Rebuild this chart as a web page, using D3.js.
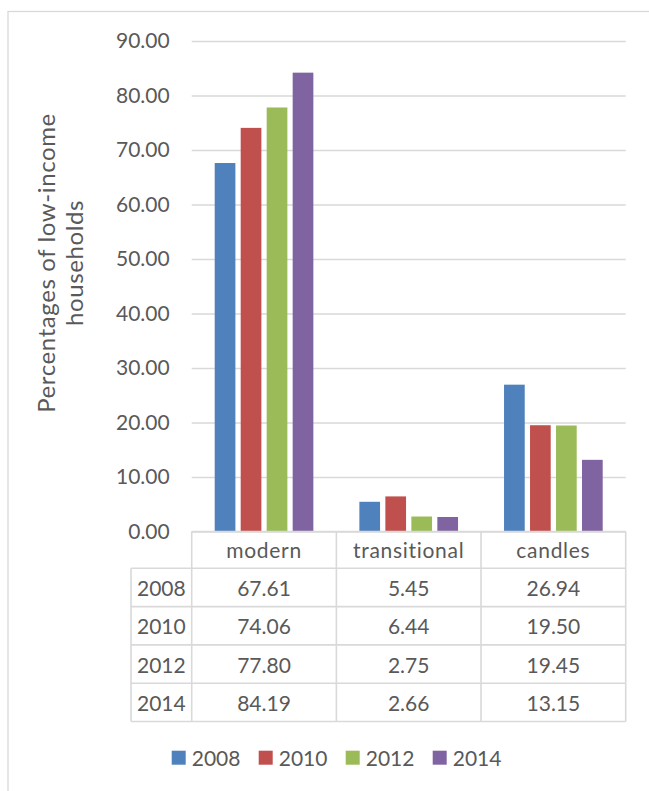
<!DOCTYPE html>
<html>
<head>
<meta charset="utf-8">
<script src="https://cdn.jsdelivr.net/npm/d3@7"></script>
<style>
  html, body { margin: 0; padding: 0; background: #fff; }
  svg text { font-family: Lato, "Open Sans", sans-serif; fill: #595959; }
</style>
</head>
<body>
<svg id="chart" width="649" height="791"></svg>
<script>
const categories = ["modern", "transitional", "candles"];
const years = ["2008", "2010", "2012", "2014"];
const values2008 = [67.61, 5.45, 26.94];
const values2010 = [74.06, 6.44, 19.50];
const values2012 = [77.80, 2.75, 19.45];
const values2014 = [84.19, 2.66, 13.15];
const yTicks = [0, 10, 20, 30, 40, 50, 60, 70, 80, 90];
const colors = ["#4f81bd", "#c0504d", "#9bbb59", "#8064a2"];
const yTitle = ["Percentages of low-income", "households"];

const series = [values2008, values2010, values2012, values2014];

const svg = d3.select("#chart");
const FS = 21;

// outer chart border
svg.append("rect").attr("x", 8).attr("y", 11.5).attr("width", 700).attr("height", 800)
  .attr("fill", "none").attr("stroke", "#d9d9d9").attr("stroke-width", 1.3);

const plotL = 191.7, plotR = 625.7, plotT = 41, plotB = 531.5;

const y = d3.scaleLinear().domain([0, 90]).range([plotB, plotT]);
const x0 = d3.scaleBand().domain(categories).range([plotL, plotR]).padding(0);
const bw = x0.bandwidth();
const x1 = d3.scaleBand().domain(years).range([23, bw - 23]).paddingInner(0.204).paddingOuter(0);

// gridlines
const yAxis = d3.axisLeft(y).tickValues(yTicks).tickFormat(d3.format(".2f"))
  .tickSize(-(plotR - plotL)).tickPadding(22);
const gAxis = svg.append("g").attr("transform", `translate(${plotL},0)`).call(yAxis);
gAxis.select(".domain").remove();
gAxis.selectAll(".tick line").attr("stroke", "#d9d9d9").attr("stroke-width", 1.5);
gAxis.selectAll(".tick text").style("font-size", FS + "px").attr("fill", "#595959")
  .style("font-family", "Lato, sans-serif");

// bars
years.forEach((yr, j) => {
  svg.append("g").selectAll("rect")
    .data(categories.map((c, i) => ({ c, v: series[j][i] })))
    .join("rect")
    .attr("x", d => x0(d.c) + x1(yr))
    .attr("y", d => y(d.v))
    .attr("width", x1.bandwidth())
    .attr("height", d => y(0) - y(d.v))
    .attr("fill", colors[j]);
});

// data table
const headerB = 568.3, rowH = 38.3, labL = 131;
const tableB = headerB + rowH * years.length;
const line = (x1_, y1_, x2_, y2_) => svg.append("line")
  .attr("x1", x1_).attr("y1", y1_).attr("x2", x2_).attr("y2", y2_)
  .attr("stroke", "#d9d9d9").attr("stroke-width", 1.6);

line(plotL, plotB, plotR, plotB);
line(labL, headerB, plotR, headerB);
years.forEach((yr, j) => line(labL, headerB + rowH * (j + 1), plotR, headerB + rowH * (j + 1)));
line(labL, headerB, labL, tableB);
categories.forEach(c => line(x0(c), plotB, x0(c), tableB));
line(plotR, plotB, plotR, tableB);

svg.append("g").selectAll("text").data(categories).join("text")
  .attr("x", d => x0(d) + bw / 2).attr("y", (plotB + headerB) / 2)
  .attr("text-anchor", "middle").attr("dominant-baseline", "central")
  .style("font-size", FS + "px").style("letter-spacing", "0.7px").text(d => d);

years.forEach((yr, j) => {
  const cy = headerB + rowH * j + rowH / 2;
  svg.append("text").attr("x", (labL + plotL) / 2).attr("y", cy)
    .attr("text-anchor", "middle").attr("dominant-baseline", "central")
    .style("font-size", FS + "px").text(yr);
  svg.append("g").selectAll("text").data(categories).join("text")
    .attr("x", c => x0(c) + bw / 2).attr("y", cy)
    .attr("text-anchor", "middle").attr("dominant-baseline", "central")
    .style("font-size", FS + "px").text((c, i) => d3.format(".2f")(series[j][i]));
});

// y-axis title
yTitle.forEach((t, k) => {
  svg.append("text").attr("transform", `translate(${55 + k * 28},263) rotate(-90)`)
    .attr("text-anchor", "middle").style("font-size", "24px").style("letter-spacing", "0.6px").text(t);
});

// legend
const legX0 = 171.7, legStep = 87, legY = 750.7;
const leg = svg.append("g").selectAll("g").data(years).join("g")
  .attr("transform", (d, j) => `translate(${legX0 + j * legStep},${legY})`);
leg.append("rect").attr("width", 14).attr("height", 14).attr("fill", (d, j) => colors[j]);
leg.append("text").attr("x", 20).attr("y", 7).attr("dominant-baseline", "central")
  .style("font-size", FS + "px").text(d => d);
</script>
</body>
</html>
